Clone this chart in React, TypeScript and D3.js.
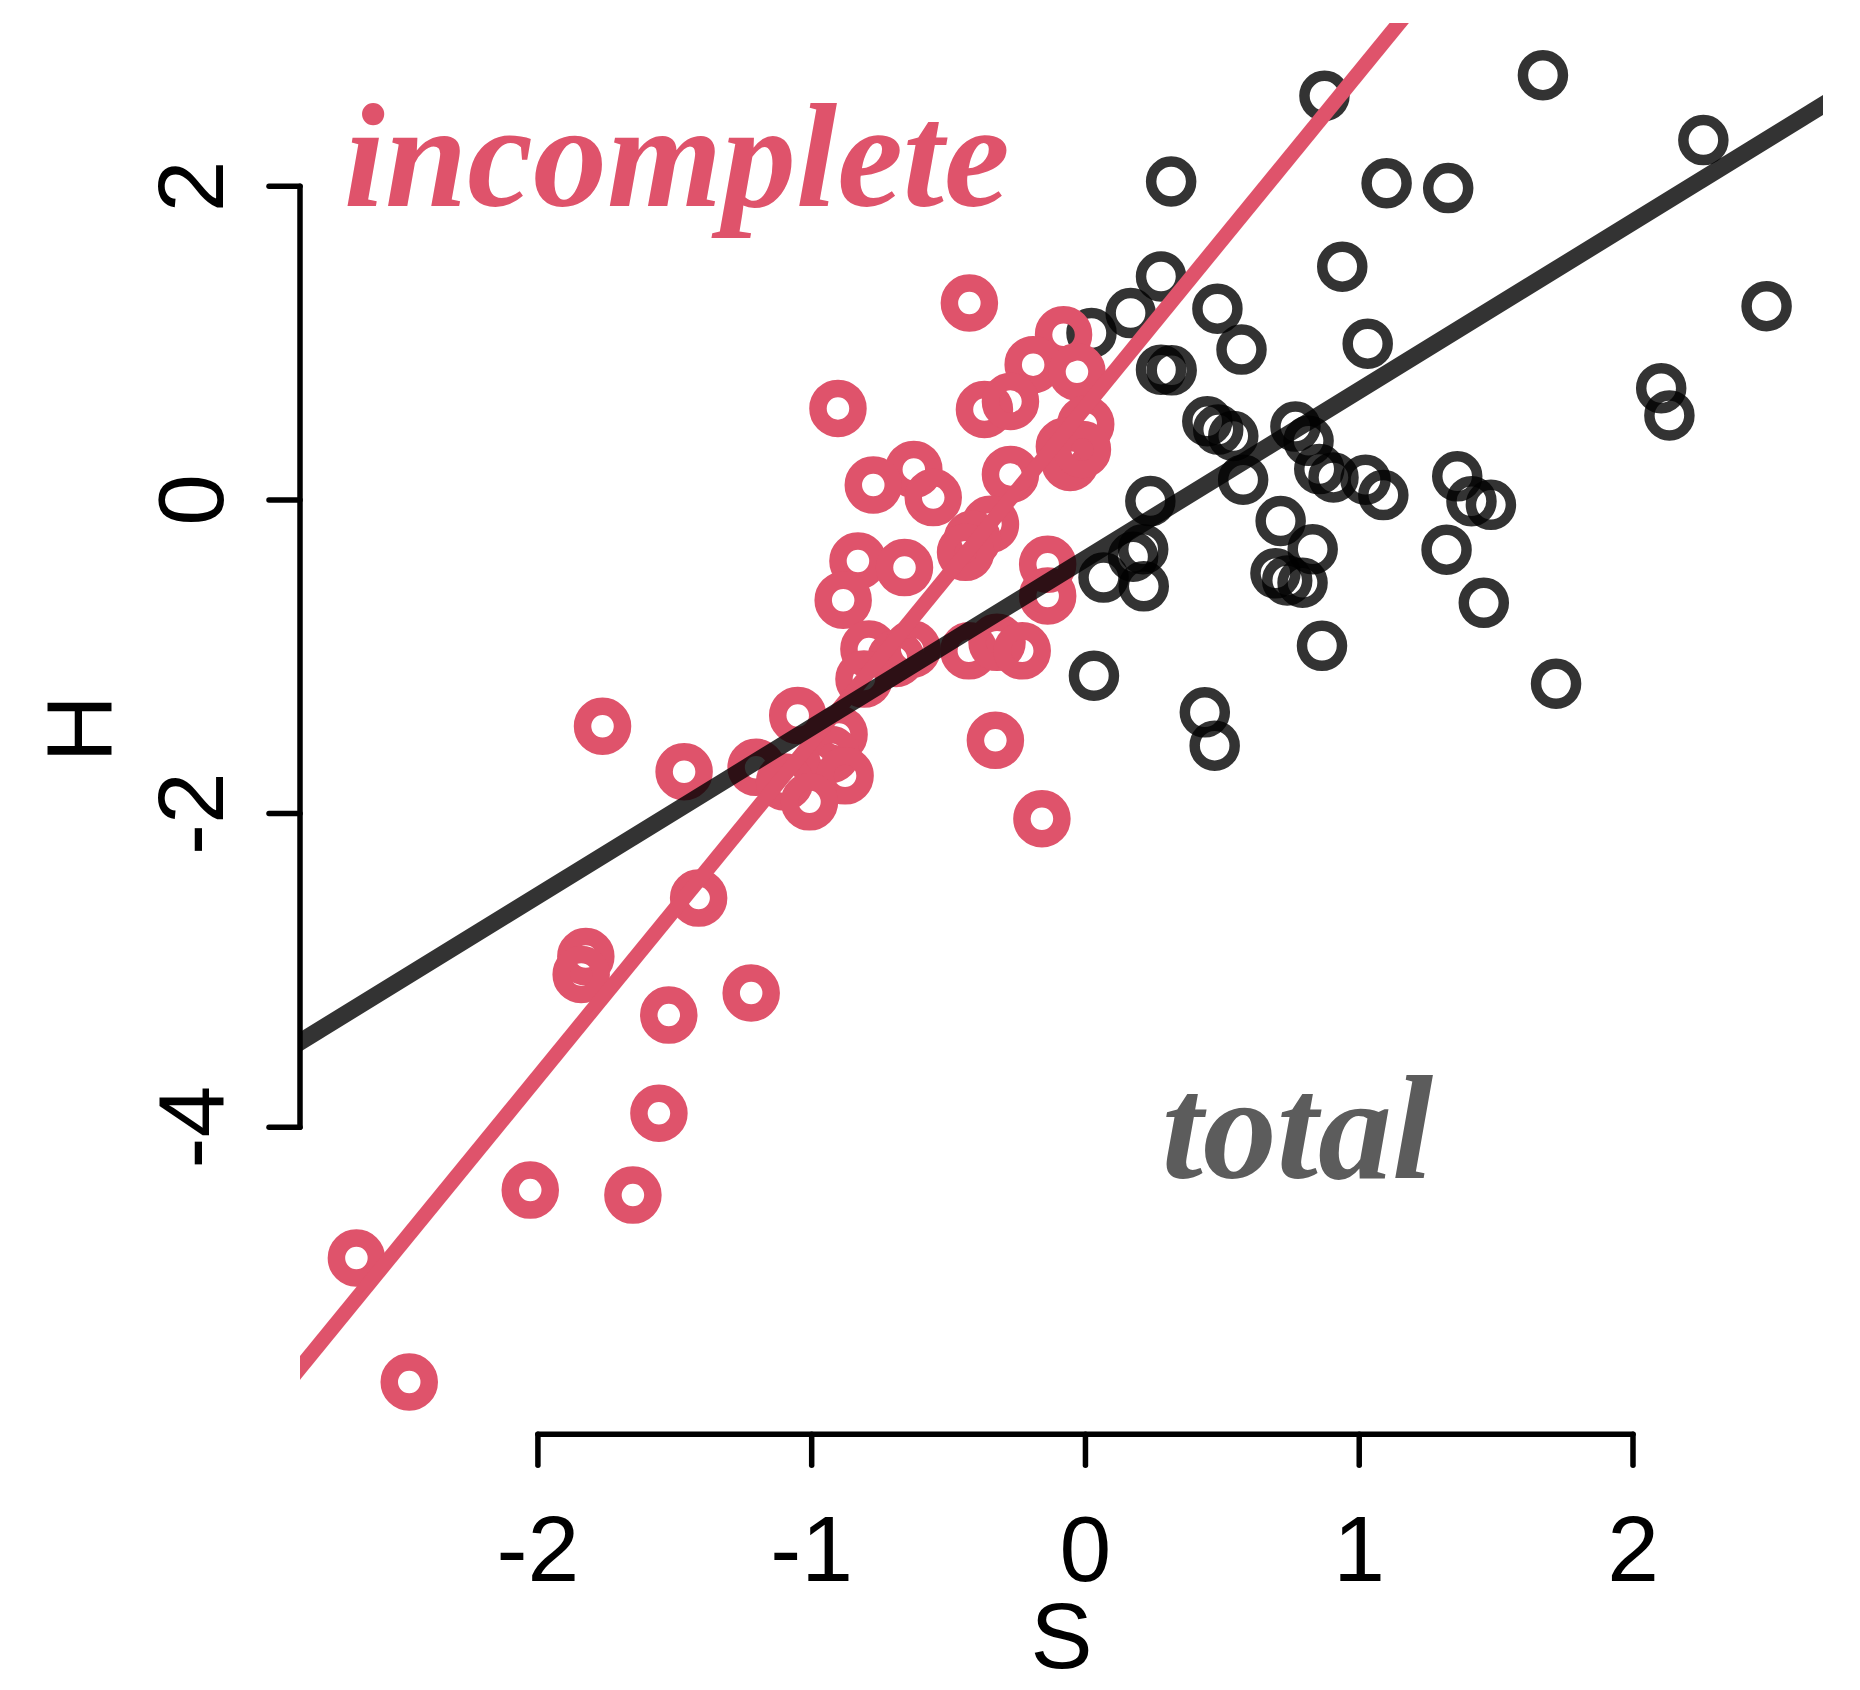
import React, { useEffect, useRef } from 'react';
import * as d3 from 'd3';

// total sample (complete cases), drawn black
const totalS = [0.873, 1.671, 2.257, 0.313, 1.100, 1.325, 0.938, 0.276, 2.488, 0.165, 0.022, 0.482, 0.570, 1.031, 0.276, 0.315,
  2.103, 2.133, 0.445, 0.485, 0.540, 0.767, 0.815, 0.576, 0.854, 0.906, 1.023, 1.088, 1.358, 1.410, 1.481, 0.237,
  0.713, 0.830, 1.319, 0.211, 0.174, 0.066, 0.213, 0.694, 0.737, 0.793, 1.455, 0.864, 0.031, 1.719, 0.436, 0.472];
const totalH = [2.577, 2.709, 2.295, 2.031, 2.020, 1.989, 1.488, 1.425, 1.236, 1.192, 1.065, 1.220, 0.959, 0.997, 0.831, 0.827,
  0.713, 0.539, 0.502, 0.449, 0.408, 0.468, 0.377, 0.129, 0.197, 0.144, 0.129, 0.031, 0.151, -0.008, -0.031, -0.007,
  -0.134, -0.314, -0.317, -0.314, -0.362, -0.495, -0.551, -0.468, -0.513, -0.528, -0.656, -0.930, -1.121, -1.172, -1.354, -1.567];

// incomplete cases, drawn red
const incompleteS = [-0.424, -0.904, -0.080, -0.191, -0.031, -0.369, -0.274, 0.001, -0.077, -0.056, -0.011, -0.274,
  -0.627, -0.775, -0.556, -0.347, -0.413, -0.438, -0.831, -0.661, -0.138, -0.885, -0.138, -0.791, -0.692, -0.633,
  -0.809, -0.426, -0.323, -0.231, -1.764, -1.051, -0.900, -0.930, -0.329, -1.466, -1.203, -1.099, -0.878, -1.008,
  -0.159, -1.413, -1.825, -1.842, -1.221, -1.522, -1.558, -2.028, -1.653, -2.663, -2.470];
const incompleteH = [1.256, 0.584, 1.054, 0.863, 0.817, 0.577, 0.628, 0.483, 0.341, 0.239, 0.322, 0.163,
  0.195, 0.095, 0.015, -0.155, -0.251, -0.334, -0.389, -0.431, -0.410, -0.639, -0.612, -0.951, -1.011, -0.951,
  -1.142, -0.962, -0.908, -0.962, -1.443, -1.374, -1.495, -1.623, -1.533, -1.733, -1.705, -1.798, -1.759, -1.925,
  -2.033, -2.539, -2.912, -3.026, -3.144, -3.285, -3.911, -4.401, -4.433, -4.834, -5.625];

// fitted lines: incomplete, total
const fitIntercepts = [0.594, -0.375];
const fitSlopes = [2.136, 1.074];

const xTicks = [-2, -1, 0, 1, 2];
const yTicks = [-4, -2, 0, 2];

const RED = '#DF536B';

// R style axis limits: data range stretched by 4% each side
function rLimits(vals) {
  const [lo, hi] = d3.extent(vals);
  const pad = (hi - lo) * 0.04;
  return [lo - pad, hi + pad];
}

function App() {
  const ref = useRef();

  useEffect(() => {
    const W = 1860, H = 1690;
    const left = 300, right = 1823, top = 22.9, bottom = 1434.3;

    const svg = d3.select(ref.current)
      .attr('width', W)
      .attr('height', H);
    svg.selectAll('*').remove();

    const x = d3.scaleLinear().domain(rLimits(totalS.concat(incompleteS))).range([left, right]);
    const y = d3.scaleLinear().domain(rLimits(totalH.concat(incompleteH))).range([bottom, top]);

    svg.append('defs').append('clipPath').attr('id', 'plotclip')
      .append('rect')
      .attr('x', left).attr('y', top)
      .attr('width', right - left).attr('height', bottom - top);

    // points
    const totalPts = totalS.map((s, i) => [s, totalH[i]]);
    const incPts = incompleteS.map((s, i) => [s, incompleteH[i]]);

    svg.append('g').selectAll('circle')
      .data(totalPts).enter().append('circle')
      .attr('cx', d => x(d[0]))
      .attr('cy', d => y(d[1]))
      .attr('r', 20)
      .attr('fill', 'none')
      .attr('stroke', 'black')
      .attr('stroke-opacity', 0.8)
      .attr('stroke-width', 10.5);

    svg.append('g').selectAll('circle')
      .data(incPts).enter().append('circle')
      .attr('cx', d => x(d[0]))
      .attr('cy', d => y(d[1]))
      .attr('r', 20)
      .attr('fill', 'none')
      .attr('stroke', RED)
      .attr('stroke-width', 17.5);

    // regression lines (abline), clipped to plot region
    const line = d3.line().x(d => x(d[0])).y(d => y(d[1]));
    const xd = x.domain();
    const lineStyles = [
      { color: RED, opacity: 1, width: 15 },
      { color: 'black', opacity: 0.8, width: 17 },
    ];
    fitIntercepts.forEach((a, i) => {
      const b = fitSlopes[i];
      svg.append('path')
        .attr('clip-path', 'url(#plotclip)')
        .attr('d', line([[xd[0] - 1, a + b * (xd[0] - 1)], [xd[1] + 1, a + b * (xd[1] + 1)]]))
        .attr('fill', 'none')
        .attr('stroke', lineStyles[i].color)
        .attr('stroke-opacity', lineStyles[i].opacity)
        .attr('stroke-width', lineStyles[i].width);
    });

    // axes, R style
    const axisFont = "'Liberation Sans', Arial, sans-serif";
    const ax = svg.append('g').attr('stroke', 'black').attr('stroke-width', 5.5).attr('stroke-linecap', 'round');
    ax.append('line')
      .attr('x1', x(xTicks[0])).attr('x2', x(xTicks[xTicks.length - 1]))
      .attr('y1', bottom).attr('y2', bottom);
    xTicks.forEach(t => {
      ax.append('line').attr('x1', x(t)).attr('x2', x(t)).attr('y1', bottom).attr('y2', bottom + 31);
    });
    ax.append('line')
      .attr('x1', left).attr('x2', left)
      .attr('y1', y(yTicks[0])).attr('y2', y(yTicks[yTicks.length - 1]));
    yTicks.forEach(t => {
      ax.append('line').attr('x1', left).attr('x2', left - 31).attr('y1', y(t)).attr('y2', y(t));
    });

    xTicks.forEach(t => {
      svg.append('text')
        .attr('x', x(t)).attr('y', 1581)
        .attr('text-anchor', 'middle')
        .style('font-family', axisFont).style('font-size', '93px')
        .text(t);
    });
    yTicks.forEach(t => {
      svg.append('text')
        .attr('transform', 'translate(223,' + y(t) + ') rotate(-90)')
        .attr('text-anchor', 'middle')
        .style('font-family', axisFont).style('font-size', '93px')
        .text(t);
    });
    svg.append('text')
      .attr('x', (left + right) / 2).attr('y', 1668)
      .attr('text-anchor', 'middle')
      .style('font-family', axisFont).style('font-size', '93px')
      .text('S');
    svg.append('text')
      .attr('transform', 'translate(111.7,' + (top + bottom) / 2 + ') rotate(-90)')
      .attr('text-anchor', 'middle')
      .style('font-family', axisFont).style('font-size', '93px')
      .text('H');

    // labels
    const labelFont = "'Liberation Serif', 'Times New Roman', serif";
    svg.append('text')
      .attr('x', x(-1.493)).attr('y', y(1.875))
      .attr('text-anchor', 'middle')
      .style('font-family', labelFont).style('font-size', '148px')
      .style('font-style', 'italic').style('font-weight', 'bold')
      .attr('fill', RED)
      .text('incomplete');
    svg.append('text')
      .attr('x', x(0.774)).attr('y', y(-4.325))
      .attr('text-anchor', 'middle')
      .style('font-family', labelFont).style('font-size', '148px')
      .style('font-style', 'italic').style('font-weight', 'bold')
      .attr('fill', '#5C5C5C')
      .text('total');
  }, []);

  return (
    <svg ref={ref} style={{ position: 'absolute', left: 0, top: 0, display: 'block' }}></svg>
  );
}

export default App;
